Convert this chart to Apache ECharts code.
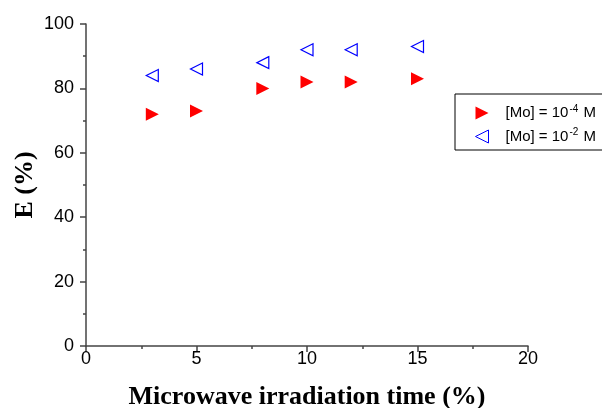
<!DOCTYPE html>
<html><head><meta charset="utf-8">
<script src="https://cdn.jsdelivr.net/npm/echarts@6/dist/echarts.min.js"></script>
<style>html,body{margin:0;padding:0;background:#fff}#c{width:602px;height:408px}</style>
</head><body><div id="c"></div>
<script>
const times = [3, 5, 8, 10, 12, 15];
const eMo4 = [72, 73, 80, 82, 82, 83];
const eMo2 = [84, 86, 88, 92, 92, 93];
const xTicks = [0, 5, 10, 15, 20];
const yTicks = [0, 20, 40, 60, 80, 100];

const chart = echarts.init(document.getElementById('c'));
const axisCommon = {
  axisLine: {show: true, lineStyle: {color: '#444', width: 1.5}},
  axisTick: {show: true, inside: false, length: 6, lineStyle: {color: '#444', width: 1.5}},
  minorTick: {show: true, splitNumber: 2, length: 3, lineStyle: {color: '#444', width: 1.5}},
  splitLine: {show: false},
  axisLabel: {color: '#000', fontFamily: 'Arial, Liberation Sans', fontSize: 18}
};
const titleStyle = {fontFamily: 'Liberation Serif, Times New Roman', fontWeight: 'bold', fontSize: 26, color: '#000'};
const rightTri = 'path://M0,0 L10,5 L0,10 Z';
const leftTri = 'path://M10,0 L0,5 L10,10 Z';
chart.setOption({
  animation: false,
  grid: {left: 86, right: 74, top: 24, bottom: 62, containLabel: false, outerBoundsMode: 'none'},
  xAxis: Object.assign({}, axisCommon, {
    type: 'value', min: xTicks[0], max: xTicks[xTicks.length-1], interval: 5,
    axisLabel: Object.assign({}, axisCommon.axisLabel, {margin: 4}),
    name: 'Microwave irradiation time (%)', nameLocation: 'middle', nameGap: 38,
    nameMoveOverlap: false,
    nameTextStyle: titleStyle
  }),
  yAxis: Object.assign({}, axisCommon, {
    type: 'value', min: yTicks[0], max: yTicks[yTicks.length-1], interval: 20,
    axisLabel: Object.assign({}, axisCommon.axisLabel, {margin: 12}),
    name: 'E (%)', nameLocation: 'middle', nameGap: 48,
    nameMoveOverlap: false,
    nameTextStyle: titleStyle
  }),
  legend: {
    left: 455, top: 94, orient: 'vertical', itemGap: 7, itemWidth: 13, itemHeight: 13,
    padding: [10, 40, 6, 20], borderColor: '#000', borderWidth: 1, borderRadius: 0,
    textStyle: {
      fontFamily: 'Arial, Liberation Sans', fontSize: 15, color: '#000',
      rich: {a: {fontFamily: 'Arial, Liberation Sans', fontSize: 15, color: '#000'},
             p: {padding: [0, 0, 0, 12]},
             s: {fontFamily: 'Arial, Liberation Sans', fontSize: 10, color: '#000', verticalAlign: 'top', padding: [0,1,8,1]}}
    },
    formatter: function(n){ return n === 'Mo4' ? '{p|}{a|[Mo] = 10}{s|-4}{a| M}' : '{p|}{a|[Mo] = 10}{s|-2}{a| M}'; },
    data: [{name: 'Mo4', icon: rightTri},
           {name: 'Mo2', icon: leftTri, itemStyle: {color: '#fff', borderColor: '#0000ff', borderWidth: 1}}]
  },
  series: [
    {name: 'Mo4', type: 'scatter', symbol: rightTri, symbolSize: [13, 13],
     itemStyle: {color: '#ff0000', opacity: 1}, data: times.map((t,i)=>[t, eMo4[i]])},
    {name: 'Mo2', type: 'scatter', symbol: leftTri, symbolSize: [12, 12],
     itemStyle: {color: '#fff', borderColor: '#0000ff', borderWidth: 1.2, opacity: 1}, data: times.map((t,i)=>[t, eMo2[i]])}
  ]
});
</script></body></html>
